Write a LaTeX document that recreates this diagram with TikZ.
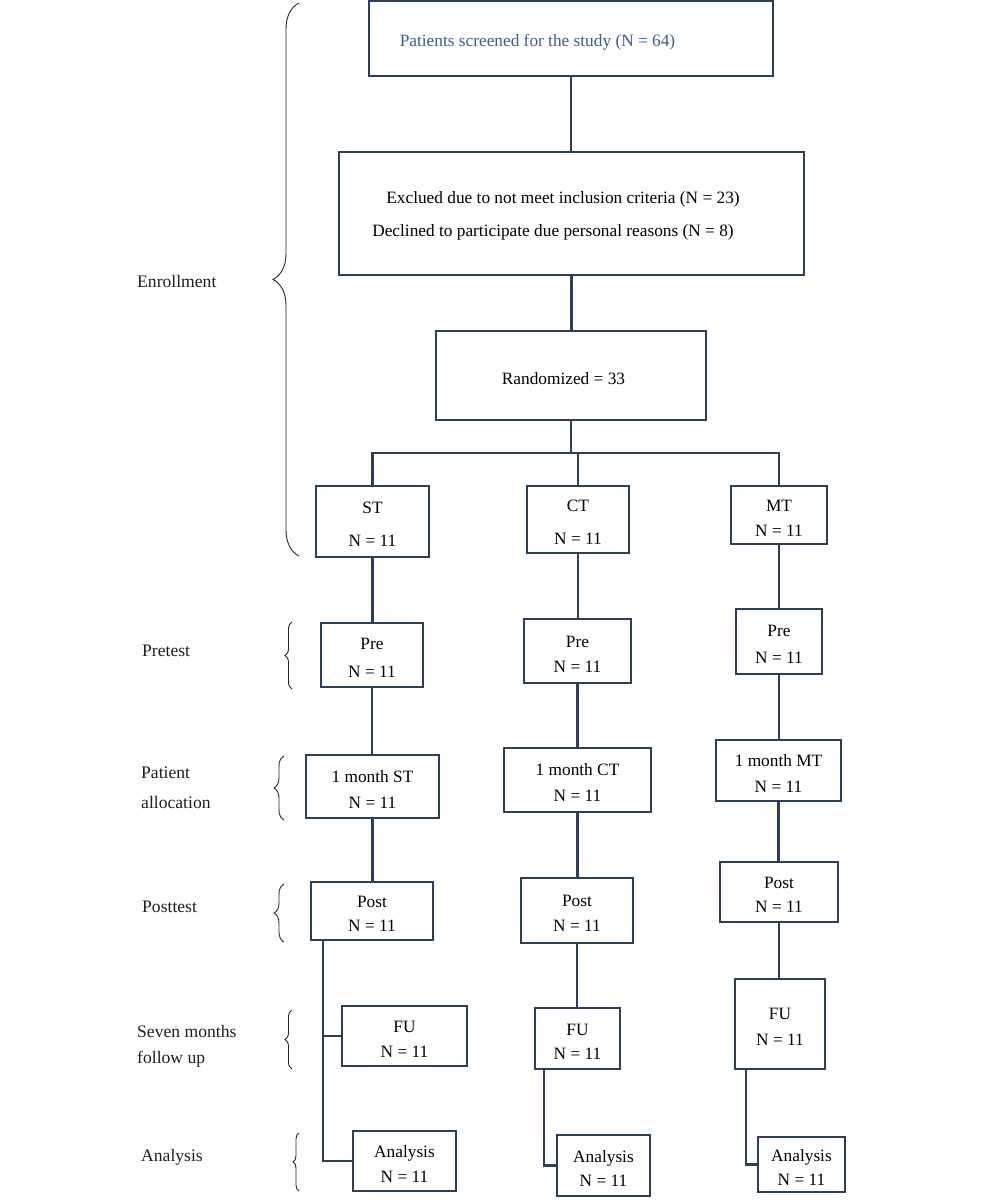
\documentclass[tikz,border=0pt]{standalone}
\usepackage{fontspec}
\setmainfont{Liberation Serif}
\usetikzlibrary{decorations.pathreplacing}
\definecolor{navy}{RGB}{44,62,92}
\definecolor{toptext}{RGB}{62,92,132}
\definecolor{lbl}{RGB}{30,30,30}
\tikzset{
  box/.style={draw=navy, line width=2.4pt, inner sep=0pt, align=center,
    font=\fontsize{17.3}{20}\selectfont, text=black},
  conn/.style={draw=navy, line width=2.4pt},
  lab/.style={anchor=west, inner sep=0pt, align=left, text=lbl,
    font=\fontsize{17.6}{20}\selectfont},
  brc/.style={draw=black!85, line width=0.9pt, decorate}
}
\newcommand\tstrut{\rule{0pt}{17.5pt}}
\newcommand\bx[8]{\node[box,minimum width=#4pt,minimum height=#5pt] (#1) at (#2,#3) {\tstrut#6\\[#8pt]#7};}
\newcommand\vlink[2]{\draw[conn] (#1.south) -- (#1.south |- #2.north);}
\begin{document}
\begin{tikzpicture}[x=1pt,y=-1pt]
\useasboundingbox (0,0) rectangle (1000,1200);
% top boxes
\node[box,minimum width=404pt,minimum height=75pt,text=toptext] (b1) at (571,38.5)
  {\rule{0pt}{19pt}Patients screened for the study (N = 64)\hspace*{67pt}};
\node[box,minimum width=465pt,minimum height=123pt] (b2) at (571.5,213.5)
  {\tstrut Exclued due to not meet inclusion criteria (N = 23)\hspace*{17pt}\\[13pt]
   Declined to participate due personal reasons (N = 8)\hspace*{37pt}};
\node[box,minimum width=270pt,minimum height=89pt] (b3) at (571,375.5)
  {\tstrut Randomized = 33\hspace*{15pt}};
% group boxes
\bx{st}{372.5}{521.5}{113}{71}{ST}{N = 11}{13}
\bx{ct}{578}{519.5}{102}{67}{CT}{N = 11}{13}
\bx{mt}{779}{515}{96}{58}{MT}{N = 11}{5}
\bx{pa}{372}{655}{102}{64}{Pre}{N = 11}{8}
\bx{pb}{577.5}{651}{107}{64}{Pre}{N = 11}{5}
\bx{pc}{779}{641.5}{86}{65}{Pre}{N = 11}{7}
\bx{ma}{372.5}{786.5}{133}{63}{1 month ST}{N = 11}{6}
\bx{mb}{577.5}{780}{147}{64}{1 month CT}{N = 11}{6}
\bx{mc}{778.5}{770.5}{125}{61}{1 month MT}{N = 11}{6}
\bx{qa}{372}{911}{122}{58}{Post}{N = 11}{4}
\bx{qb}{577}{910.5}{112}{65}{Post}{N = 11}{5}
\bx{qc}{779}{892}{118}{60}{Post}{N = 11}{4}
\bx{fa}{404.5}{1036}{125}{60}{FU}{N = 11}{5}
\bx{fb}{577.5}{1038.5}{85}{61}{FU}{N = 11}{4}
\bx{fc}{780}{1024}{90}{90}{FU}{N = 11}{6}
\bx{aa}{404.5}{1161}{103}{60}{Analysis}{N = 11}{5}
\bx{ab}{603.5}{1165.5}{93}{61}{Analysis}{N = 11}{4}
\bx{ac}{801.5}{1164.5}{87}{55}{Analysis}{N = 11}{4}
% connectors
\vlink{b1}{b2}
\vlink{b2}{b3}
\coordinate (split) at (571,453);
\draw[conn] (b3.south) -- (split);
\draw[conn] (st.north) |- (mt.north |- split) -- (mt.north);
\draw[conn] (ct.north) -- (ct.north |- split);
\vlink{st}{pa} \vlink{pa}{ma} \vlink{ma}{qa}
\vlink{ct}{pb} \vlink{pb}{mb} \vlink{mb}{qb} \vlink{qb}{fb}
\vlink{mt}{pc} \vlink{pc}{mc} \vlink{mc}{qc} \vlink{qc}{fc}
\coordinate (s1) at ([xshift=13pt]qa.south west);
\draw[conn] (s1) |- (aa.west);
\draw[conn] (fa.west) -- (fa.west -| s1);
\coordinate (s2) at ([xshift=10pt]fb.south west);
\draw[conn] (s2) |- (ab.west);
\coordinate (s3) at ([xshift=12pt]fc.south west);
\draw[conn] (s3) |- (ac.west);
% left labels
\node[lab] (l1) at (137,281) {Enrollment};
\node[lab] (l2) at (142,651) {Pretest};
\node[lab] (l3) at (141,788) {Patient\\[10pt]allocation};
\node[lab] (l4) at (142,907) {Posttest};
\node[lab] (l5) at (137,1046) {Seven months\\[6pt]follow up};
\node[lab] (l6) at (141,1157) {Analysis};
% braces
\draw[brc, decoration={brace, amplitude=26pt}] (299,556) -- (299,3);
\draw[brc, decoration={brace, amplitude=7pt}] (292,689) -- (292,622);
\draw[brc, decoration={brace, amplitude=10pt}] (284,820) -- (284,756);
\draw[brc, decoration={brace, amplitude=10pt}] (284,942) -- (284,884);
\draw[brc, decoration={brace, amplitude=7pt}] (292,1069) -- (292,1010);
\draw[brc, decoration={brace, amplitude=6pt}] (299,1191) -- (299,1133);
\end{tikzpicture}
\end{document}
